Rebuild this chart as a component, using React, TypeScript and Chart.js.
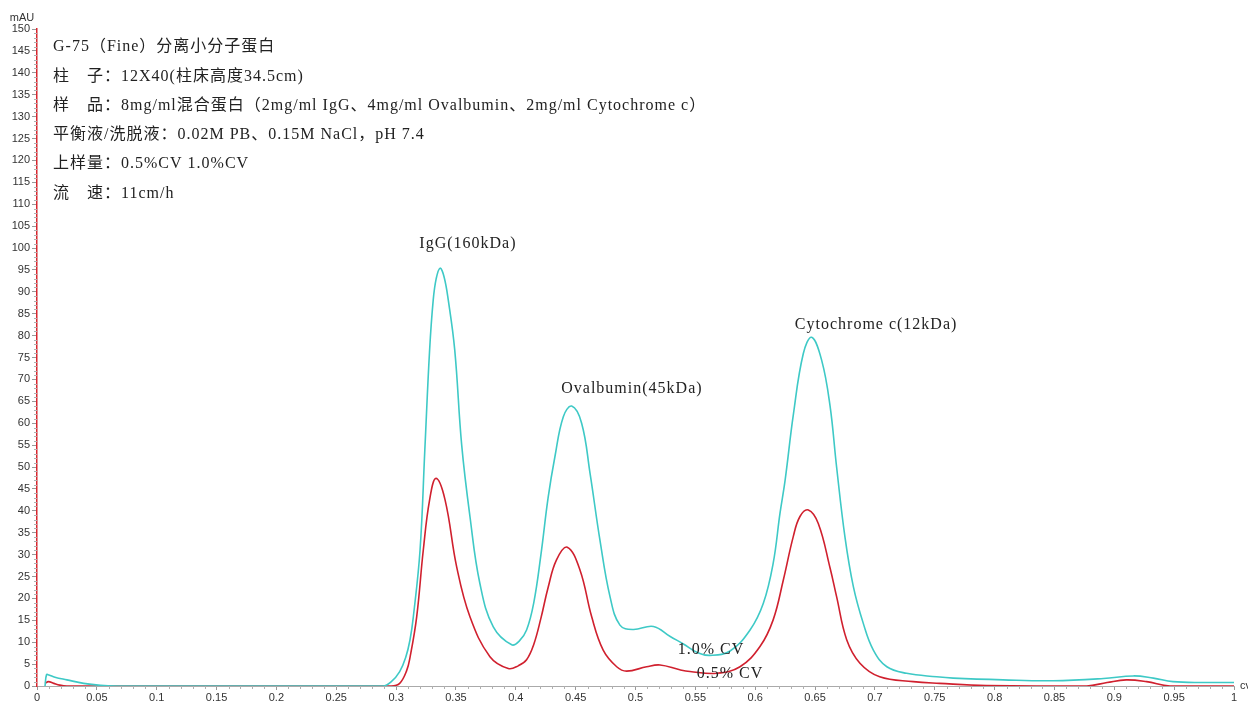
import React, { useEffect, useRef } from "react";
import { Chart, registerables } from "chart.js";

Chart.register(...registerables);

// 1.0% CV trace (cyan)
const cv10X = [0.0067, 0.008, 0.01, 0.015, 0.025, 0.039, 0.053, 0.067, 0.1, 0.2, 0.289, 0.296, 0.303, 0.308, 0.3116, 0.3144, 0.32, 0.324, 0.328, 0.331, 0.3335, 0.3367, 0.340, 0.3436, 0.349, 0.3548, 0.3617, 0.37, 0.3812, 0.3966, 0.403, 0.409, 0.415, 0.421, 0.427, 0.4327, 0.4397, 0.4467, 0.455, 0.462, 0.4703, 0.4787, 0.487, 0.498, 0.515, 0.529, 0.54, 0.552, 0.5622, 0.579, 0.5957, 0.6068, 0.615, 0.6207, 0.625, 0.6319, 0.6402, 0.6472, 0.6555, 0.6625, 0.668, 0.675, 0.682, 0.6903, 0.6987, 0.71, 0.7265, 0.7516, 0.7655, 0.807, 0.849, 0.891, 0.916, 0.9326, 0.949, 0.974, 1.0];
const cv10Y = [0, 2.6, 2.5, 2.0, 1.4, 0.6, 0.15, 0, 0, 0, 0, 1.0, 3.3, 6.5, 10.5, 15.8, 31, 53.9, 76.7, 88.1, 93, 95.4, 93.5, 88.1, 76.7, 55, 38.7, 23.4, 13.5, 9.4, 10.3, 12.8, 19, 30, 43, 52.4, 61.5, 63.9, 60, 48.6, 33.3, 20.4, 13.9, 12.9, 13.6, 11.3, 9.6, 7.6, 7.0, 8.0, 12.8, 18.9, 28, 39.4, 47, 62, 75.9, 79.6, 74.4, 64, 50, 34, 22.7, 14.3, 8.2, 4.4, 2.9, 2.1, 1.8, 1.4, 1.2, 1.7, 2.3, 1.8, 1.0, 0.8, 0.8];

// 0.5% CV trace (red)
const cv05X = [0.0067, 0.0095, 0.014, 0.019, 0.025, 0.1, 0.2, 0.296, 0.303, 0.3088, 0.3116, 0.3172, 0.3227, 0.328, 0.3333, 0.3409, 0.3506, 0.3617, 0.3784, 0.3937, 0.402, 0.409, 0.415, 0.421, 0.427, 0.434, 0.443, 0.4536, 0.4634, 0.473, 0.4843, 0.4926, 0.5093, 0.5205, 0.537, 0.5455, 0.5678, 0.5873, 0.604, 0.615, 0.6235, 0.6318, 0.6374, 0.6444, 0.6527, 0.6625, 0.668, 0.6765, 0.6875, 0.704, 0.732, 0.754, 0.793, 0.877, 0.894, 0.91, 0.927, 0.9465, 1.0];
const cv05Y = [0.6, 1.0, 0.6, 0.2, 0, 0, 0, 0, 0.6, 3.5, 6.5, 15.8, 31, 42.5, 47.4, 42.5, 27.2, 15.8, 6.7, 4.0, 4.6, 6.0, 9.5, 15.5, 22.5, 28.8, 31.7, 26.5, 15.8, 8.2, 4.4, 3.4, 4.4, 4.8, 3.7, 3.3, 2.9, 4.4, 9, 15.1, 24.2, 34.1, 38.7, 40.2, 37.1, 27, 20.4, 10.5, 5.2, 2.1, 1.0, 0.6, 0.1, 0, 0.8, 1.4, 1.0, 0, 0];

const headerLines = [
  "G-75（Fine）分离小分子蛋白",
  "柱　子：12X40(柱床高度34.5cm)",
  "样　品：8mg/ml混合蛋白（2mg/ml IgG、4mg/ml Ovalbumin、2mg/ml Cytochrome c）",
  "平衡液/洗脱液：0.02M PB、0.15M NaCl，pH 7.4",
  "上样量：0.5%CV 1.0%CV",
  "流　速：11cm/h",
];

const peakLabels = ["IgG(160kDa)", "Ovalbumin(45kDa)", "Cytochrome c(12kDa)", "1.0% CV", "0.5% CV"];
const peakLabelX = [0.36, 0.497, 0.701, 0.563, 0.579];
const peakLabelY = [101, 67.8, 82.4, 8.2, 2.7];

const xMin = 0;
const xMax = 1;
const xStep = 0.05;
const yMin = 0;
const yMax = 150;
const yStep = 5;

const toPoints = (xs: number[], ys: number[]) => xs.map((x, i) => ({ x, y: ys[i] }));

const TEXT_FONT = "'Liberation Serif', 'Noto Sans CJK SC', serif";
const AXIS_FONT = "'Liberation Sans', Arial, sans-serif";

const overlayPlugin = {
  id: "overlay",
  afterDraw(chart: any) {
    const ctx = chart.ctx;
    const xs = chart.scales.x;
    const ys = chart.scales.y;
    const area = chart.chartArea;
    ctx.save();
    // minor ticks
    ctx.strokeStyle = "#b0b0b0";
    ctx.lineWidth = 1;
    ctx.beginPath();
    for (let v = yMin; v <= yMax + 1e-9; v += 1) {
      if (Math.round(v) % yStep === 0) continue;
      const py = Math.round(ys.getPixelForValue(v)) + 0.5;
      ctx.moveTo(area.left - 3, py);
      ctx.lineTo(area.left, py);
    }
    for (let i = 0; i <= 100; i++) {
      if (i % 5 === 0) continue;
      const px = Math.round(xs.getPixelForValue(i / 100)) + 0.5;
      ctx.moveTo(px, area.bottom);
      ctx.lineTo(px, area.bottom + 3);
    }
    ctx.stroke();

    // axis units
    ctx.fillStyle = "#333";
    ctx.font = `11px ${AXIS_FONT}`;
    ctx.textAlign = "center";
    ctx.textBaseline = "middle";
    ctx.fillText("mAU", 22, area.top - 11);
    ctx.textAlign = "left";
    ctx.fillText("cv", area.right + 6, area.bottom);

    // header text block
    ctx.fillStyle = "#222";
    ctx.font = `16px ${TEXT_FONT}`;
    (ctx as any).letterSpacing = "1px";
    ctx.textAlign = "left";
    ctx.textBaseline = "middle";
    headerLines.forEach((t, i) => {
      ctx.fillText(t, area.left + 16, area.top + 18 + i * 29.3);
    });

    // peak labels
    ctx.textAlign = "center";
    peakLabels.forEach((t, i) => {
      ctx.fillText(t, xs.getPixelForValue(peakLabelX[i]), ys.getPixelForValue(peakLabelY[i]));
    });
    ctx.restore();
  },
};

export default function App() {
  const ref = useRef<HTMLCanvasElement | null>(null);
  useEffect(() => {
    document.body.style.margin = "0";
    const canvas = ref.current!;
    const chart = new Chart(canvas, {
      type: "line",
      data: {
        datasets: [
          {
            label: "1.0% CV",
            data: toPoints(cv10X, cv10Y),
            borderColor: "#3ec9c6",
            borderWidth: 1.6,
            pointRadius: 0,
            tension: 0.4,
            fill: false,
          },
          {
            label: "0.5% CV",
            data: toPoints(cv05X, cv05Y),
            borderColor: "#d0202e",
            borderWidth: 1.6,
            pointRadius: 0,
            tension: 0.4,
            fill: false,
          },
        ],
      },
      options: {
        responsive: false,
        animation: false,
        devicePixelRatio: 1,
        layout: { padding: { top: 29, right: 14, left: 0, bottom: 0 } },
        plugins: { legend: { display: false }, tooltip: { enabled: false } },
        scales: {
          x: {
            type: "linear",
            min: xMin,
            max: xMax,
            afterFit: (s: any) => {
              s.height = 18;
            },
            afterBuildTicks: (s: any) => {
              const t = [];
              for (let i = 0; i <= Math.round((xMax - xMin) / xStep); i++) t.push({ value: +(xMin + i * xStep).toFixed(2) });
              s.ticks = t;
            },
            ticks: {
              autoSkip: false,
              maxRotation: 0,
              padding: 1,
              color: "#333",
              font: { family: AXIS_FONT, size: 11 },
              callback: (v: any) => String(+Number(v).toFixed(2)),
            },
            grid: { drawOnChartArea: false, drawTicks: true, tickLength: 4, color: "#999" },
            border: { color: "#aaa", width: 1 },
          },
          y: {
            type: "linear",
            min: yMin,
            max: yMax,
            afterFit: (s: any) => {
              s.width = 37;
            },
            ticks: {
              stepSize: yStep,
              autoSkip: false,
              padding: 2,
              color: "#333",
              font: { family: AXIS_FONT, size: 11 },
            },
            grid: { drawOnChartArea: false, drawTicks: true, tickLength: 5, color: "#999" },
            border: { color: "#d8262e", width: 1.5 },
          },
        },
      },
      plugins: [overlayPlugin],
    });
    return () => chart.destroy();
  }, []);
  return <canvas ref={ref} width={1248} height={704} style={{ display: "block" }} />;
}
